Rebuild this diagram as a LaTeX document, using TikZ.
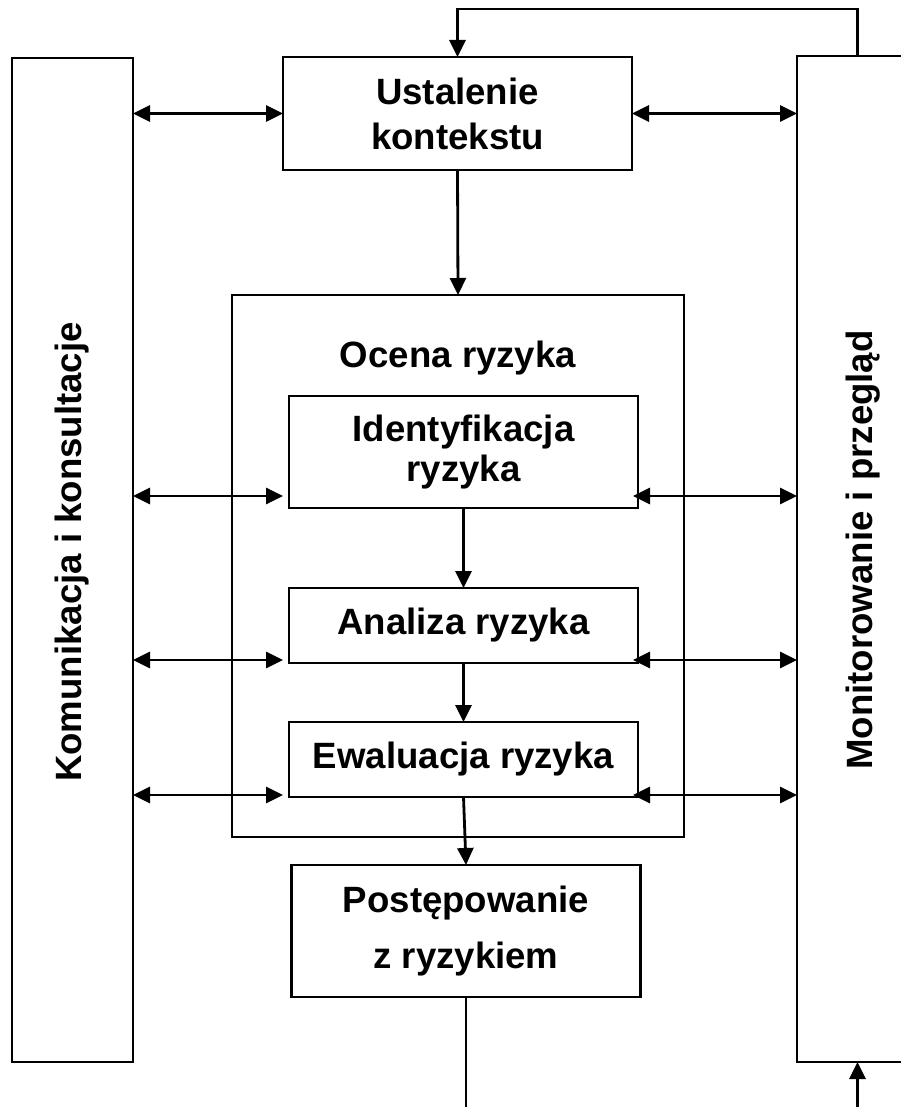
\documentclass[tikz,border=0pt]{standalone}
\usepackage{fontspec}
\setmainfont{Liberation Sans}
\usetikzlibrary{positioning,arrows.meta}

\begin{document}
\begin{tikzpicture} [
	x=1pt, y=-1pt,
	node distance = 80pt and 0pt,
	every node/.style = {
		font=\fontsize{36.6}{37}\selectfont\bfseries,
		align=center,
		inner sep=0pt,
		outer sep=0pt
	},
	box/.style = {
		draw=black,
		line width=2.2pt,
		minimum width=349pt
	},
	side/.style = {
		draw=black,
		line width=2.2pt,
		minimum width=121pt
	},
	link/.style = {draw, line width=2.8pt, -{Triangle[length=17pt,width=16pt]}},
	both/.style = {link, {Triangle[length=17pt,width=16pt]}-{Triangle[length=17pt,width=16pt]}}
]

\useasboundingbox (0,0) rectangle (901,1107);
\clip (0,0) rectangle (901,1107);

\node (kom) [side, minimum height=1004pt] at (72.5,560) {};
\node (mon) [side, minimum height=1006pt] at (857.5,559) {};
\node (komtxt) [rotate=90] at ([yshift=8pt]kom.center) {Komunikacja i konsultacje};
\node (montxt) [rotate=90] at ([xshift=5.5pt,yshift=9pt]mon.center) {Monitorowanie i przegląd};

\node (ust) [box, minimum height=113pt] at (457.5,113.5) {Ustalenie\\[8pt]kontekstu};
\node (ocena) [box, minimum width=452pt, minimum height=542pt] at (458,566) {};
\node (ocenatxt) at (458,358) {Ocena ryzyka};
\node (ident) [box, minimum height=112pt] at (463.5,452) {Identyfikacja\\[3pt]ryzyka};
\node (anal) [box, minimum height=75pt, below=of ident] {Analiza ryzyka};
\node (ewal) [box, minimum height=75pt, below=59pt of anal] {Ewaluacja ryzyka};
\node (post) [box, minimum height=132pt, below=68pt of ewal, xshift=2.5pt] {Postępowanie\\[19pt]z ryzykiem};

\coordinate (exit) at (post.south |- 0,1107);

\draw [link] (mon.north) -- ++(0,-47) -| (ust.north);
\draw [link] (ust.south) -- (ocena.north);
\draw [link] (ident.south) -- (anal.north);
\draw [link] (anal.south) -- (ewal.north);
\draw [link] (ewal.south) -- (post.north);
\draw [line width=2.8pt] (post.south) -- (exit);
\draw [link] (mon.south |- exit) -- (mon.south);

\draw [both] (kom.east |- ust.west) -- (ust.west);
\draw [both] (ust.east) -- (mon.west |- ust.east);
\foreach \n/\s in {ident/12,anal/3,ewal/2} {
	\coordinate (\n-l) at ([xshift=-6pt,yshift=\s pt]\n.south west);
	\coordinate (\n-r) at ([xshift=-5pt,yshift=\s pt]\n.south east);
	\draw [both] (kom.east |- \n-l) -- (\n-l);
	\draw [both] (\n-r) -- (mon.west |- \n-r);
}

\end{tikzpicture}
\end{document}
